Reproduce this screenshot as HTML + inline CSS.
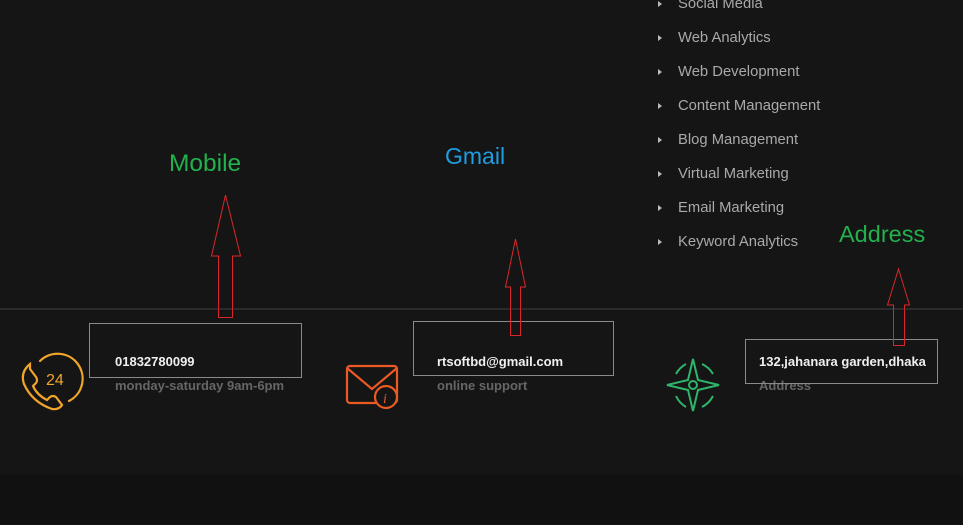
<!DOCTYPE html>
<html><head><meta charset="utf-8"><style>
html,body{margin:0;padding:0;}
body{width:963px;height:525px;background:#151515;position:relative;overflow:hidden;font-family:"Liberation Sans",sans-serif;}
.t{position:absolute;white-space:nowrap;}
.m{color:#a9a9a9;font-size:14.8px;left:678px;}
.tri{position:absolute;left:658px;width:0;height:0;border-left:4px solid #bbb;border-top:3.5px solid transparent;border-bottom:3.5px solid transparent;}
.w{color:#f0f0f0;font-size:13px;font-weight:bold;}
.g{color:#666;font-size:13px;font-weight:bold;}
</style></head><body>
<div style="position:absolute;left:0;top:475px;width:963px;height:50px;background:#111;"></div>
<div style="position:absolute;left:0;top:308px;width:963px;height:2px;background:#2a2a2a;"></div>

<div class="tri" style="top:1px"></div><div class="t m" style="top:-4px">Social Media</div>
<div class="tri" style="top:35px"></div><div class="t m" style="top:30px">Web Analytics</div>
<div class="tri" style="top:69px"></div><div class="t m" style="top:64px">Web Development</div>
<div class="tri" style="top:103px"></div><div class="t m" style="top:98px">Content Management</div>
<div class="tri" style="top:137px"></div><div class="t m" style="top:132px">Blog Management</div>
<div class="tri" style="top:171px"></div><div class="t m" style="top:166px">Virtual Marketing</div>
<div class="tri" style="top:205px"></div><div class="t m" style="top:200px">Email Marketing</div>
<div class="tri" style="top:239px"></div><div class="t m" style="top:234px">Keyword Analytics</div>

<div class="t" style="left:169px;top:150px;font-size:24.5px;color:#22b14c;">Mobile</div>
<div class="t" style="left:445px;top:143px;font-size:23px;color:#1f9ee0;">Gmail</div>
<div class="t" style="left:839px;top:221px;font-size:23.5px;color:#22b14c;">Address</div>

<div class="t w" style="left:115px;top:354px">01832780099</div>
<div class="t g" style="left:115px;top:378px">monday-saturday 9am-6pm</div>
<div class="t w" style="left:437px;top:354px">rtsoftbd@gmail.com</div>
<div class="t g" style="left:437px;top:378px">online support</div>
<div class="t w" style="left:759px;top:354px">132,jahanara garden,dhaka</div>
<div class="t g" style="left:759px;top:378px">Address</div>

<svg width="963" height="525" style="position:absolute;left:0;top:0" fill="none">
<g stroke="#f0a52a" stroke-width="2.2" stroke-linecap="round">
<path d="M40 361 A25 25 0 1 1 69 401"/>
<path d="M30 364 q-10 8 -6 20 q8 18 28 25 q7 1 10 -4 l-6 -8 q-3 -2 -6 0 l-3 3 q-10 -5 -14 -14 l3 -3 q2 -3 0 -6 l-6 -8 z"/>
<text x="46" y="385" font-size="16" fill="#f0a52a" stroke="none" font-family="Liberation Sans">24</text>
</g>
<g stroke="#ea5a22" stroke-width="2.2">
<rect x="347" y="366" width="50" height="37" rx="3"/>
<path d="M347 368 L372 389 L397 368"/>
<circle cx="386" cy="397" r="11" fill="#151515"/>
<text x="383" y="403" font-size="14" font-style="italic" fill="#ea5a22" stroke="none" font-family="Liberation Serif">i</text>
</g>
<g stroke="#2fb56a" stroke-width="2">
<path d="M676 374 A25 25 0 0 1 686 364 M702 364 A25 25 0 0 1 713 374 M713 396 A25 25 0 0 1 702 407 M686 407 A25 25 0 0 1 676 396"/>
<path d="M693 359 L698 380 L719 385 L698 390 L693 411 L688 390 L667 385 L688 380 Z"/>
<circle cx="693" cy="385" r="4"/>
</g>
<g stroke="#d9262b" stroke-width="1">
<rect x="89.5" y="323.5" width="212" height="54" stroke="#8a8a8a"/>
<rect x="413.5" y="321.5" width="200" height="54" stroke="#8a8a8a"/>
<rect x="745.5" y="339.5" width="192" height="44" stroke="#8a8a8a"/>
<path d="M225.5 195 L240.5 256 L232.5 256 L232.5 317.5 L218.5 317.5 L218.5 256 L211.5 256 Z"/>
<path d="M515.5 239 L525.5 287 L520.5 287 L520.5 335.5 L510.5 335.5 L510.5 287 L505.5 287 Z"/>
<path d="M898.5 269 L909.5 305 L904.5 305 L904.5 345.5 L893.5 345.5 L893.5 305 L887.5 305 Z"/>
</g>
</svg>
</body></html>
